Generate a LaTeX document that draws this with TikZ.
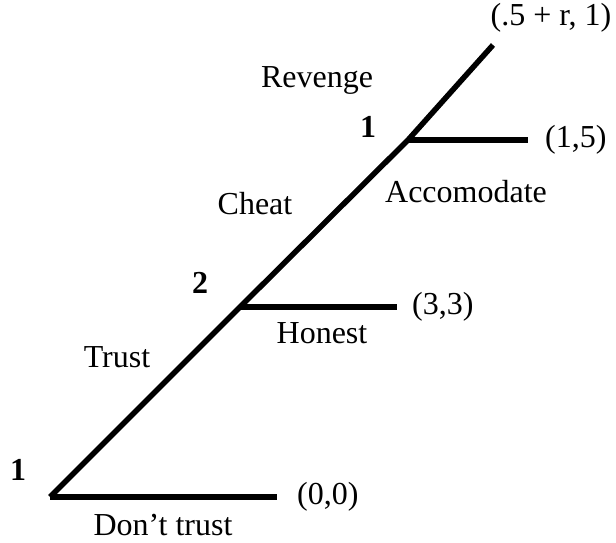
\documentclass[tikz,border=0pt]{standalone}
\usepackage{fontspec}
\setmainfont{Liberation Serif}
\usetikzlibrary{positioning}

\begin{document}
\begin{tikzpicture}[
  x=1pt, y=1pt,
  branch/.style={line width=5.5pt},
  txt/.style={font=\fontsize{32}{37}\selectfont, inner sep=0pt},
  player/.style={txt, font=\fontsize{32}{37}\selectfont\bfseries},
  payoff/.style={txt, anchor=west}
]
  \useasboundingbox (0,0) rectangle (616,543);

  % decision points and ends of the moves
  \coordinate (d1) at (50,46);
  \coordinate (d2) at (240,236);
  \coordinate (d3) at (408,403);
  \coordinate (e1) at (277,46);
  \coordinate (e2) at (397,236);
  \coordinate (e3) at (528,403);
  \coordinate (e4) at (493,498);

  \draw[branch] (d1) -- (d2) -- (d3) -- (e4);
  \draw[branch] (d1) -- (e1);
  \draw[branch] (d2) -- (e2);
  \draw[branch] (d3) -- (e3);

  % players
  \node[player] (pl1) at (18,73) {1};
  \node[player] (pl2) at (200,260) {2};
  \node[player] (pl3) at (368,416) {1};

  % moves
  \node[txt] (dont) at (163,18) {Don’t trust};
  \node[txt] (trust) at (117,186) {Trust};
  \node[txt] (honest) at (322,210) {Honest};
  \node[txt] (cheat) at (255,339) {Cheat};
  \node[txt] (accom) at (466,351) {Accomodate};
  \node[txt] (reveng) at (317,463) {Revenge};

  % payoffs
  \node[payoff, right=20pt of e1] (pay1) {(0,0)};
  \node[payoff, right=15pt of e2] (pay2) {(3,3)};
  \node[payoff, right=17pt of e3] (pay3) {(1,5)};
  \node[txt] (pay4) at (551,525) {(.5 + r, 1)};
\end{tikzpicture}
\end{document}
